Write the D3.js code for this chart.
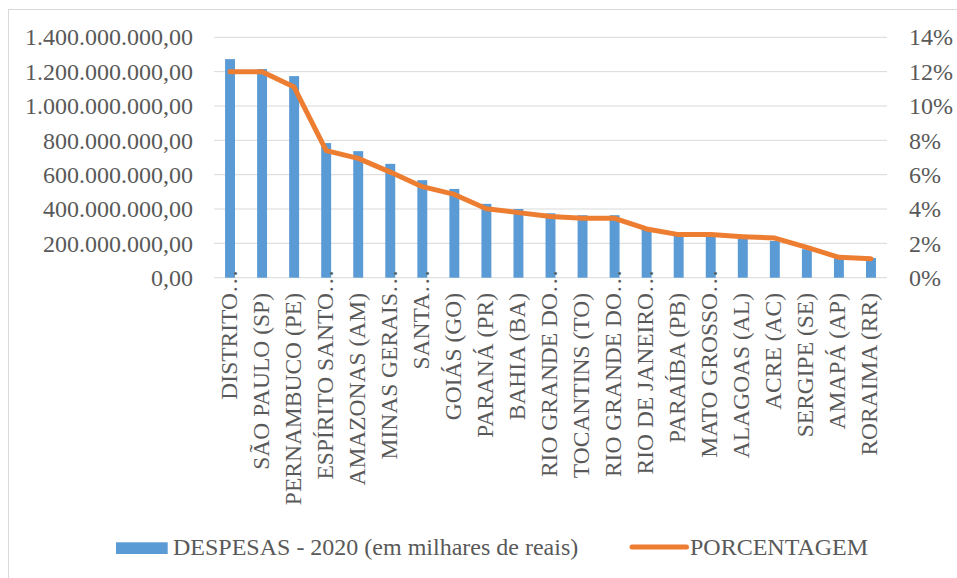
<!DOCTYPE html>
<html lang="pt">
<head>
    <meta charset="UTF-8">
    <title>Despesas 2020</title>
    <script src="https://d3js.org/d3.v7.min.js"></script>
    <style>
        body { margin: 0; background: #fff; }
        .grid line { stroke: #d9d9d9; stroke-width: 1; }
    </style>
</head>
<body>
    <svg width="957" height="578"></svg>

    <script>
        // categorias (rótulos como aparecem, truncados pelo Excel)
        const estados = [
            "DISTRITO…", "SÃO PAULO (SP)", "PERNAMBUCO (PE)", "ESPÍRITO SANTO…",
            "AMAZONAS (AM)", "MINAS GERAIS…", "SANTA…", "GOIÁS (GO)", "PARANÁ (PR)",
            "BAHIA (BA)", "RIO GRANDE DO…", "TOCANTINS (TO)", "RIO GRANDE DO…",
            "RIO DE JANEIRO…", "PARAÍBA (PB)", "MATO GROSSO…", "ALAGOAS (AL)",
            "ACRE (AC)", "SERGIPE (SE)", "AMAPÁ (AP)", "RORAIMA (RR)"
        ];
        // despesas em milhões
        const despesas = [1273, 1215, 1174, 784, 737, 663, 568, 517, 430, 400,
                          375, 364, 364, 290, 245, 245, 226, 214, 166, 122, 115];
        // porcentagem (%)
        const porcentagem = [12.0, 12.0, 11.1, 7.4, 6.95, 6.15, 5.3, 4.85, 4.02, 3.79,
                             3.56, 3.46, 3.46, 2.84, 2.51, 2.51, 2.39, 2.31, 1.77, 1.19, 1.11];
        const ticksEsq = [0, 200e6, 400e6, 600e6, 800e6, 1000e6, 1200e6, 1400e6];
        const ticksDir = [0, 0.02, 0.04, 0.06, 0.08, 0.10, 0.12, 0.14];
        const legendas = ["DESPESAS - 2020 (em milhares de reais)", "PORCENTAGEM"];

        const FONT = "Liberation Serif";
        const FS = 24;
        const svg = d3.select("svg");
        const pLeft = 214, pRight = 887, pTop = 37.3, pBottom = 277.7;

        const br = d3.formatLocale({ decimal: ",", thousands: ".", grouping: [3], currency: ["R$", ""] });
        const fmtEsq = br.format(",.2f");
        const fmtDir = d3.format(".0%");

        const x = d3.scaleBand().domain(d3.range(estados.length)).range([pLeft, pRight]).padding(0);
        const y = d3.scaleLinear().domain([0, 1400e6]).range([pBottom, pTop]);
        const y2 = d3.scaleLinear().domain([0, 0.14]).range([pBottom, pTop]);
        const barW = x.bandwidth() * 0.31;
        const cx = i => x(i) + x.bandwidth() / 2;

        // borda do gráfico
        svg.append("rect")
            .attr("x", 8.5).attr("y", 9.5)
            .attr("width", 1200).attr("height", 1200)
            .attr("fill", "none").attr("stroke", "#d9d9d9");

        // linhas de grade
        svg.append("g").attr("class", "grid")
            .selectAll("line")
            .data(ticksEsq)
            .enter().append("line")
            .attr("x1", pLeft).attr("x2", pRight)
            .attr("y1", d => y(d)).attr("y2", d => y(d));

        // eixos
        const axL = svg.append("g")
            .attr("transform", `translate(${pLeft},0)`)
            .call(d3.axisLeft(y).tickValues(ticksEsq).tickFormat(fmtEsq).tickSize(0).tickPadding(21));
        const axR = svg.append("g")
            .attr("transform", `translate(${pRight},0)`)
            .call(d3.axisRight(y2).tickValues(ticksDir).tickFormat(fmtDir).tickSize(0).tickPadding(22));
        [axL, axR].forEach(a => {
            a.attr("font-family", FONT).attr("font-size", FS);
            a.select(".domain").remove();
            a.selectAll("text")
                .attr("fill", "#595959")
                .style("font-family", FONT)
                .style("font-size", FS + "px");
        });

        // barras
        svg.append("g")
            .selectAll("rect")
            .data(despesas)
            .enter().append("rect")
            .attr("x", (d, i) => cx(i) - barW / 2)
            .attr("width", barW)
            .attr("y", d => y(d * 1e6))
            .attr("height", d => pBottom - y(d * 1e6))
            .attr("fill", "#5b9bd5");

        // linha
        const line = d3.line()
            .x((d, i) => cx(i))
            .y(d => y2(d / 100));
        svg.append("path")
            .datum(porcentagem)
            .attr("d", line)
            .attr("fill", "none")
            .attr("stroke", "#ed7d31")
            .attr("stroke-width", 5)
            .attr("stroke-linejoin", "round")
            .attr("stroke-linecap", "round");

        // rótulos das categorias (girados)
        const fsx = 23.5;
        svg.append("g")
            .selectAll("text")
            .data(estados)
            .enter().append("text")
            .attr("transform", (d, i) => {
                const yEnd = d.endsWith("…") ? 293 - fsx : 293;
                return `translate(${cx(i) + 6.5},${yEnd}) rotate(-90)`;
            })
            .attr("text-anchor", "end")
            .attr("fill", "#595959")
            .style("font-family", FONT)
            .style("font-size", fsx + "px")
            .text(d => d);

        // legenda
        const leg = svg.append("g");
        leg.append("rect")
            .attr("x", 116).attr("y", 542.3)
            .attr("width", 51.7).attr("height", 11.7)
            .attr("fill", "#5b9bd5");
        leg.append("text")
            .attr("x", 173).attr("y", 554.5)
            .attr("fill", "#595959")
            .style("font-family", FONT)
            .style("font-size", FS + "px")
            .text(legendas[0]);
        leg.append("line")
            .attr("x1", 632).attr("x2", 686.5)
            .attr("y1", 547).attr("y2", 547)
            .attr("stroke", "#ed7d31")
            .attr("stroke-width", 5)
            .attr("stroke-linecap", "round");
        leg.append("text")
            .attr("x", 690).attr("y", 554.5)
            .attr("fill", "#595959")
            .style("font-family", FONT)
            .style("font-size", FS + "px")
            .text(legendas[1]);
    </script>
</body>
</html>
